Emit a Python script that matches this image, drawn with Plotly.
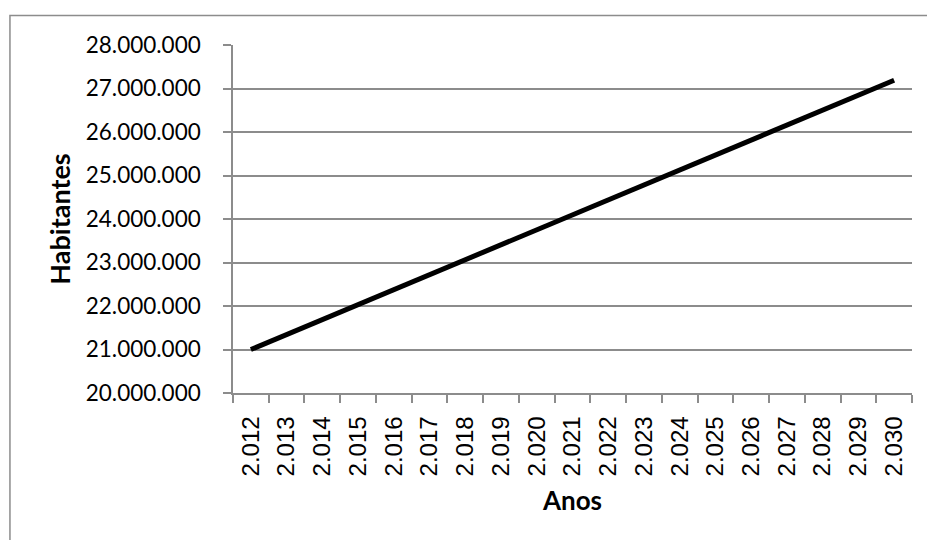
import plotly.graph_objects as go

# Projected population per year
anos = ["2.012", "2.013", "2.014", "2.015", "2.016", "2.017", "2.018", "2.019", "2.020",
        "2.021", "2.022", "2.023", "2.024", "2.025", "2.026", "2.027", "2.028", "2.029", "2.030"]
habitantes = [21000000, 21345000, 21690000, 22030000, 22375000, 22720000, 23060000,
              23405000, 23750000, 24090000, 24435000, 24780000, 25125000, 25465000,
              25810000, 26155000, 26500000, 26840000, 27190000]

y_ticks = [20000000, 21000000, 22000000, 23000000, 24000000, 25000000, 26000000, 27000000, 28000000]

grid = "#8c8c8c"

fig = go.Figure()
fig.add_trace(go.Scatter(
    x=anos, y=habitantes, mode="lines",
    line=dict(color="black", width=5),
    showlegend=False, hoverinfo="skip",
))

fig.update_layout(
    width=927, height=540,
    margin=dict(l=233, r=15, t=45, b=147),
    paper_bgcolor="white", plot_bgcolor="white",
    separators=",.",
    font=dict(family="Lato", color="black"),
    xaxis=dict(
        type="category", tickson="boundaries", range=[-0.5, len(anos) - 0.5],
        showgrid=False, showline=True, linecolor=grid, linewidth=1.5,
        ticks="outside", ticklen=8, tickcolor=grid, tickwidth=1.5,
        tickangle=-90, ticklabelstandoff=12,
        tickfont=dict(family="Liberation Sans", size=24, color="black"),
        title=dict(text="<b>Anos</b>", font=dict(family="Lato", size=26), standoff=16),
    ),
    yaxis=dict(
        range=[20000000, 28000000], tickvals=y_ticks, tickformat=",d",
        showgrid=True, gridcolor=grid, gridwidth=1.5,
        showline=True, linecolor=grid, linewidth=1.5,
        ticks="outside", ticklen=8, tickcolor=grid, tickwidth=1.5,
        ticklabelstandoff=18, zeroline=False,
        tickfont=dict(family="Lato", size=22.5, color="black"),
        title=dict(text="<b>Habitantes</b>", font=dict(family="Lato", size=27), standoff=7),
    ),
    shapes=[dict(
        type="rect", xref="paper", yref="paper",
        x0=-0.3285, x1=1.03, y0=-0.45, y1=1.0848,
        line=dict(color="#8c8c8c", width=1.5), fillcolor="rgba(0,0,0,0)", layer="below",
    )],
)

fig.write_html("out.html")
